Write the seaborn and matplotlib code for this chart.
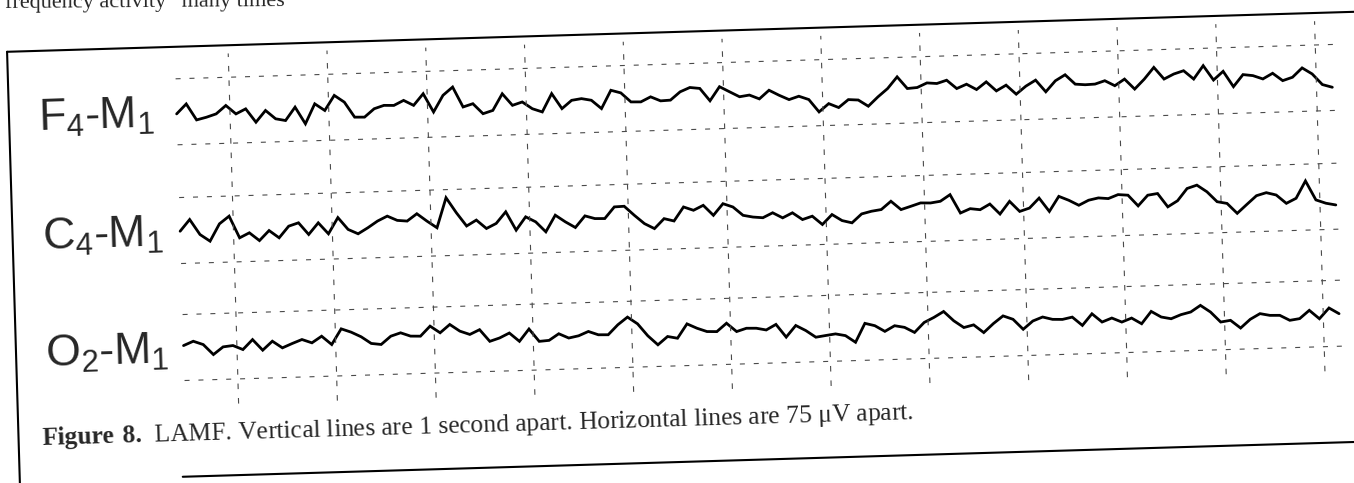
import numpy as np
import pandas as pd
import matplotlib
matplotlib.use("Agg")
import matplotlib.pyplot as plt
from matplotlib.transforms import Affine2D
from matplotlib.lines import Line2D
import seaborn as sns

# ---------------- data ----------------
channels = ["F$_4$-M$_1$", "C$_4$-M$_1$", "O$_2$-M$_1$"]
channel_offsets = [0, -135, -268]          # uV, baseline of each channel
second_marks = [1, 2, 3, 4, 5, 6, 7, 8, 9, 10, 11, 12]   # vertical lines, 1 s apart
grid_half = 37.5                           # horizontal lines 75 uV apart
t_start = 0.46
dt = 0.1

f4 = [-2.4, 8.6, -9.9, -7.2, -3.7, 5.5, -4.4, 1.0, -14.5, -1.5,
      -11.3, -13.6, 1.3, -18.0, 4.4, -3.5, 13.3, 5.3, -12.1, -12.4,
      -3.2, 0.3, -0.1, 5.3, -0.7, 12.2, -8.9, 9.7, 18.8, -4.2,
      -0.8, -12.5, -9.1, 9.5, -4.0, -0.5, -8.5, -12.5, 8.0, -9.4,
      -0.3, 1.3, -0.9, -10.7, 9.8, 6.5, -4.1, -4.4, 1.0, -3.9,
      -3.4, 5.7, 10.3, 8.9, -5.5, 10.2, 4.1, -1.9, -0.3, -5.0,
      4.5, -1.5, -6.8, -3.3, -7.4, -21.8, -12.7, -17.5, -8.8, -9.6,
      -17.0, -6.7, 2.4, 15.4, 1.8, 2.6, 7.5, 6.5, 9.9, 0.1,
      4.7, -1.7, 6.7, -3.9, 2.3, -8.3, 0.5, 7.0, -6.6,
      5.6, 12.1, 1.1, 0.1, 0.5, 4.0, -2.0, 5.2, -6.5, 4.5,
      17.5, 3.9, 9.3, 12.7, 2.9, 17.8, 1.1, 10.7, -7.1, 6.3,
      4.8, 0.7, 6.8, -1.9, 1.6, 11.9, 4.7, -7.7, -11.1]

c4 = [-0.8, 12.2, -5.2, -13.1, 6.3, 14.7, -10.3, -4.9, -14.1, -3.0,
      -11.6, 1.3, 4.8, -8.8, 4.1, -8.7, 9.4, -4.4, -9.7, -3.2,
      4.1, 9.4, 4.2, 3.1, 11.1, 2.4, -5.5, 28.3, 10.9, -4.5,
      1.9, -8.0, -2.6, 10.3, -10.9, 3.9, -2.1, -13.8, 4.8, -3.1,
      -9.9, 3.0, -0.4, -0.7, 12.2, 12.6, 2.0, -7.8, -13.8, -2.8,
      -5.8, 9.8, 5.7, 11.0, -0.7, 12.2, 8.1, -1.7, -4.0, -5.1,
      0.2, -5.9, -0.5, -8.5, -5.0, -14.8, -3.8, -11.0, -13.9, -4.1,
      -1.4, 0.2, 9.3, -0.5, 2.9, 6.4, 6.0, 7.6, 14.8, -6.4,
      -1.8, -3.3, 2.8, -8.9, 5.2, -6.6, -3.1, 7.9, -7.6,
      9.2, 4.4, -1.6, 3.8, 6.1, 5.0, 9.2, 8.2, -4.3, 7.5,
      9.1, -6.4, 0.2, 13.8, 17.3, 9.4, -2.2, -4.5, -16.1, -6.3,
      3.3, 6.4, 3.4, -6.4, -1.0, 18.4, -3.5, -7.6, -9.9]

o2 = [2.2, 6.8, 2.7, -9.0, -0.6, 0.6, -4.3, 6.7, -5.7, 4.2,
      -3.7, 0.9, 5.1, 1.0, 8.2, -1.6, 15.9, 11.8, 6.2, -1.7,
      -3.2, 5.9, 9.4, 5.3, 4.9, 16.0, 8.1, 17.2, 9.3, 5.2,
      10.3, -3.3, 0.2, 5.5, -4.3, 9.4, -5.0, -4.2, 3.0, -2.2,
      0.0, 4.6, 0.5, 0.2, 11.2, 19.6, 11.6, -2.3, -12.9, -3.8,
      -6.1, 9.9, 4.6, 0.5, 0.1, 9.3, -0.5, 2.9, 2.6, 0.3,
      6.3, -8.5, 4.4, -1.7, -9.6, -8.0, -6.5, -8.8, -16.7, 4.5,
      1.5, -5.3, 0.8, -1.4, -7.5, 3.5, 8.9, 15.3, 4.4, -3.6,
      -0.9, -10.0, -0.1, 8.3, 4.1, -7.6, 1.5, 5.7, 2.7,
      2.3, 4.6, -5.2, 7.7, -2.0, 2.2, -2.7, 1.5, -5.3, 8.4,
      1.7, -0.6, 3.7, 6.4, 13.6, 5.7, -6.0, -4.4, -13.5, -3.9,
      2.2, -0.1, -0.4, -6.4, -4.8, 4.3, -5.6, 6.3, -0.5]

caption_bold = "Figure 8."
caption_text = "LAMF. Vertical lines are 1 second apart. Horizontal lines are 75 \u03bcV apart."
top_text = "frequency activity \u201cmany times"

# ---------------- style ----------------
sns.set_style("white")
plt.rcParams["font.family"] = ["Liberation Sans", "DejaVu Sans"]
plt.rcParams["mathtext.default"] = "regular"
plt.rcParams["mathtext.fontset"] = "custom"
plt.rcParams["mathtext.rm"] = "Liberation Serif"
plt.rcParams["mathtext.bf"] = "Liberation Serif:bold"

W, H, DPI = 1354, 483, 100
fig = plt.figure(figsize=(W / DPI, H / DPI), dpi=DPI)
fig.patch.set_facecolor("white")
ax = fig.add_axes([0, 0, 1, 1])
ax.axis("off")

# scanned page is slightly tilted
tilt = 1.7
rot = Affine2D().rotate_deg_around(W / 2, H / 2, tilt)
tr = ax.transData + rot

# ---------------- traces ----------------
rows = []
for name, off, vals in zip(channels, channel_offsets, [f4, c4, o2]):
    tt = t_start + dt * np.arange(len(vals))
    for ti, v in zip(tt, vals):
        rows.append((name, ti, v + off))
df = pd.DataFrame(rows, columns=["channel", "time", "amp"])
t_end = df["time"].max()

sns.lineplot(data=df, x="time", y="amp", units="channel", estimator=None,
             sort=False, color="black", lw=2.0, ax=ax, legend=False)
for ln in ax.lines:
    ln.set_transform(tr)
    ln.set_clip_on(False)
    ln.set_solid_joinstyle("miter")

# ---------------- grid ----------------
h_levels = [off + s * grid_half for off in channel_offsets for s in (1, -1)]
ax.hlines(h_levels, t_start, t_end + 0.04, colors="#4a4a4a", linewidths=0.8,
          linestyles=(0, (4.5, 8)), transform=tr, clip_on=False)
v_top = channel_offsets[0] + grid_half + 27
v_bot = channel_offsets[-1] - grid_half - 28
ax.vlines(second_marks, v_bot, v_top, colors="#4a4a4a", linewidths=0.8,
          linestyles=(0, (5, 8)), transform=tr, clip_on=False)

# ---------------- labels ----------------
for name, off in zip(channels, channel_offsets):
    ax.text(-0.94, off - 17, name, fontsize=32, family="Liberation Sans",
            va="baseline", ha="left", transform=tr, rotation=tilt,
            rotation_mode="anchor")

ax.text(-1.0, -374,
        r"$\mathbf{" + caption_bold.replace(" ", r"\ ") + r"}\ $" + caption_text,
        fontsize=18.4, family="Liberation Serif", va="baseline", ha="left",
        transform=tr, rotation=tilt, rotation_mode="anchor")

fig.text(5 / W, 1 - 8 / H, top_text, fontsize=16, family="Liberation Serif",
         va="baseline", ha="left", rotation=0.4, rotation_mode="anchor")

# ---------------- frame ----------------
ftr = fig.transFigure + rot
x_left = 13 / W
y_top = 1 - 32 / H
y_bottom = 1 - 462 / H
for xs, ys in [([x_left, 1.03], [y_top, y_top]),
               ([x_left, x_left], [y_top, -0.1]),
               ([176 / W, 1.03], [y_bottom, y_bottom])]:
    fig.add_artist(Line2D(xs, ys, transform=ftr, color="black", lw=1.5))

ax.set_xlim(-1.3684, 12.336)
ax.set_ylim(-438.64, 110.23)

fig.savefig("out.png", dpi=DPI, facecolor="white")
